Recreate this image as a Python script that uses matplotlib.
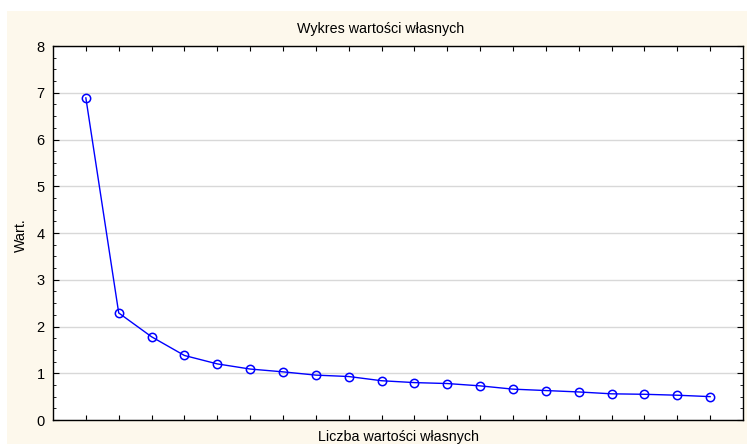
import matplotlib
matplotlib.use("Agg")
import matplotlib.pyplot as plt
from matplotlib.patches import Rectangle
from matplotlib.ticker import MultipleLocator

plt.rcParams['font.family'] = ['Liberation Sans', 'DejaVu Sans']

numbers = list(range(1, 21))
eigenvalues = [6.89, 2.29, 1.78, 1.38, 1.20, 1.09, 1.03, 0.96, 0.93, 0.84,
               0.80, 0.78, 0.73, 0.66, 0.63, 0.60, 0.56, 0.55, 0.53, 0.50]
y_ticks = [0, 1, 2, 3, 4, 5, 6, 7, 8]

W, H = 747, 444
fig = plt.figure(figsize=(W / 100, H / 100), dpi=100)
fig.patch.set_facecolor('white')
fig.patches.append(Rectangle((7 / W, 0), 1 - 7 / W, 1 - 11 / H, transform=fig.transFigure,
                             facecolor='#fdf8ec', edgecolor='none', zorder=-10))

ax = fig.add_axes([53 / W, 1 - 420 / H, (743 - 53) / W, (420 - 46) / H])
ax.set_facecolor('white')
ax.plot(numbers, eigenvalues, color='#0000ff', lw=1.0, marker='o', markersize=6,
        markerfacecolor='none', markeredgecolor='#0000ff', markeredgewidth=1.1, zorder=3)

ax.set_xlim(0, 21)
ax.set_ylim(0, 8)
ax.set_xticks(numbers)
ax.set_xticklabels([])
ax.set_yticks(y_ticks)
ax.set_yticklabels([str(t) for t in y_ticks])
ax.yaxis.set_minor_locator(MultipleLocator(0.25))
ax.grid(axis='y', which='major', color='#d8d8d8', lw=1.0)
ax.set_axisbelow(True)

ax.tick_params(axis='x', which='major', direction='in', length=3.5, width=0.8,
               top=True, bottom=True)
ax.tick_params(axis='y', which='major', direction='in', length=4, width=0.8,
               left=True, right=True, labelsize=10.5, pad=6)
ax.tick_params(axis='y', which='minor', direction='in', length=2, width=0.6,
               left=True, right=True)
for sp in ax.spines.values():
    sp.set_linewidth(1.0)
    sp.set_color('black')

fig.text(381 / W, 1 - 29 / H, 'Wykres wartości własnych', ha='center', va='center',
         fontsize=10.3)
fig.text(399 / W, 1 - 437 / H, 'Liczba wartości własnych', ha='center', va='center',
         fontsize=10.3)
fig.text(21 / W, 1 - 235 / H, 'Wart.', ha='center', va='center', rotation=90, fontsize=10.3)

fig.savefig('out.png', dpi=100, facecolor=fig.get_facecolor())
